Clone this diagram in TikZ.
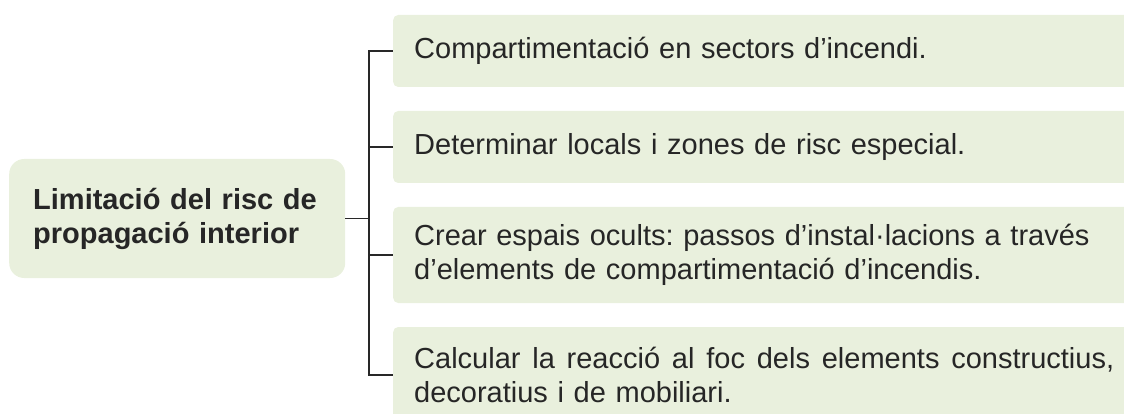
\documentclass[tikz,border=0pt]{standalone}
\usepackage{fontspec}
\setmainfont{Liberation Sans}
\frenchspacing
\definecolor{boxfill}{RGB}{233,240,221}
\definecolor{txt}{RGB}{38,38,38}
\definecolor{linec}{RGB}{40,40,40}
\begin{document}
\begin{tikzpicture}[x=1pt,y=-1pt,
  leaf/.style={anchor=west, fill=boxfill, rounded corners=5pt, minimum width=760pt,
    text width=718pt, inner xsep=21pt, inner ysep=0pt, align=left, text=txt,
    font=\fontsize{29}{34}\selectfont},
  root/.style={anchor=west, fill=boxfill, rounded corners=15pt, minimum width=336pt,
    minimum height=119pt, text width=288pt, inner xsep=24pt, align=left, text=txt,
    font=\fontsize{29}{34}\selectfont\bfseries},
  conn/.style={draw=linec, line width=1.6pt}]
\path[use as bounding box, clip] (0,0) rectangle (1124,414);
\node[root] (r) at (9,218.5) {Limitació del risc de\\propagació interior};
\node[leaf, minimum height=72pt] (b1) at (393,51) {Compartimentació en sectors d’incendi.};
\node[leaf, minimum height=72pt] (b2) at (393,147) {Determinar locals i zones de risc especial.};
\node[leaf, minimum height=96pt] (b3) at (393,255) {Crear espais ocults: passos d’instal·lacions a través\\d’elements de compartimentació d’incendis.};
\node[leaf, minimum height=96pt] (b4) at (393,375) {\hbox to 700pt{Calcular\hfill la\hfill reacció\hfill al\hfill foc\hfill dels\hfill elements\hfill constructius,}\\decoratius i de mobiliari.};
\coordinate (j) at (369,218.5);
\draw[conn] (r.east) -- (j);
\draw[conn] (j) |- (b1.west);
\draw[conn] (j) |- (b2.west);
\draw[conn] (j) |- (b3.west);
\draw[conn] (j) |- (b4.west);
\end{tikzpicture}
\end{document}
